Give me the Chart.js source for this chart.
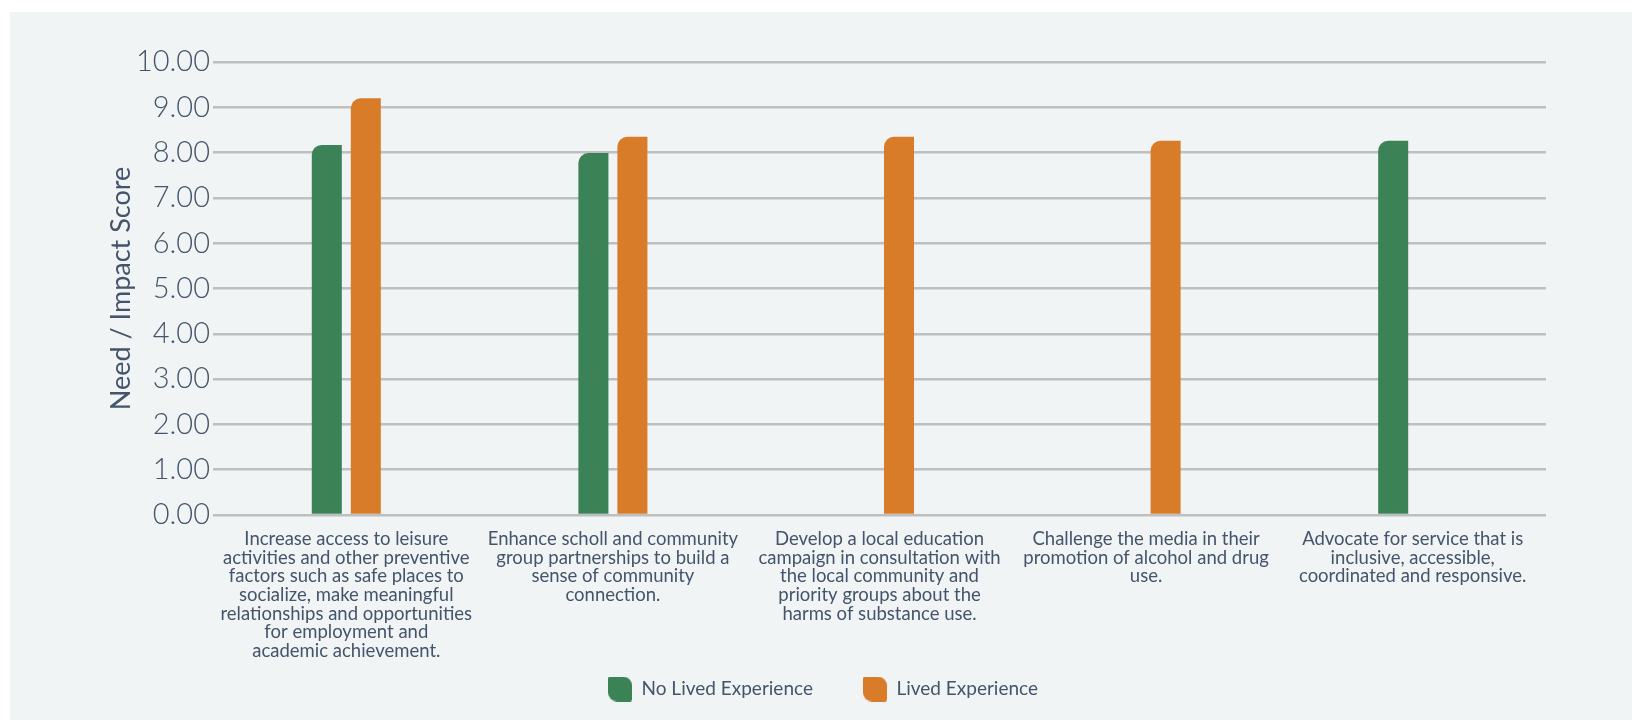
<!DOCTYPE html>
<html>
<head>
<meta charset="utf-8">
<script src="https://cdn.jsdelivr.net/npm/chart.js@4.4.1/dist/chart.umd.min.js"></script>
<style>
  html, body { margin: 0; padding: 0; background: #ffffff; }
  #wrap { position: relative; width: 1632px; height: 720px; }
</style>
</head>
<body>
<div id="wrap"><canvas id="c" width="1632" height="720"></canvas></div>
<script>
// ---- data ----
const categories = [
  ["Increase access to leisure", "activities and other preventive", "factors such as safe places to", "socialize, make meaningful", "relationships and opportunities", "for employment and", "academic achievement."],
  ["Enhance scholl and community", "group partnerships to build a", "sense of community", "connection."],
  ["Develop a local education", "campaign in consultation with", "the local community and", "priority groups about the", "harms of substance use."],
  ["Challenge the media in their", "promotion of alcohol and drug", "use."],
  ["Advocate for service that is", "inclusive, accessible,", "coordinated and responsive."]
];
const seriesNames = ["No Lived Experience", "Lived Experience"];
const noLivedExperience = [8.17, 7.99, null, null, 8.26];
const livedExperience = [9.20, 8.35, 8.35, 8.26, null];
const yTicks = [0, 1, 2, 3, 4, 5, 6, 7, 8, 9, 10];
const yAxisTitle = "Need / Impact Score";

// ---- styles ----
const GREEN = '#3c8257';
const ORANGE = '#d97c29';
const TEXT = '#44546a';

function leafIcon(color) {
  const cv = document.createElement('canvas');
  cv.width = 24; cv.height = 25;
  const x = cv.getContext('2d');
  x.fillStyle = color;
  x.beginPath();
  x.roundRect(0, 0, 24, 25, [2, 9, 2, 9]);
  x.fill();
  return cv;
}
const icons = [leafIcon(GREEN), leafIcon(ORANGE)];

const panelBg = {
  id: 'panelBg',
  beforeDraw(chart) {
    const ctx = chart.ctx;
    ctx.save();
    ctx.fillStyle = '#f0f4f5';
    ctx.fillRect(10, 12, 1622, 708);
    ctx.restore();
  }
};

const LEGEND_MID = 689;
const legendFix = {
  id: 'legendFix',
  beforeLayout(chart) {
    const lg = chart.legend;
    if (lg && !lg.__fixed) {
      const orig = lg.fit;
      lg.fit = function () { orig.call(this); this.height = 55; };
      lg.__fixed = true;
    }
  },
  afterLayout(chart) {
    const lg = chart.legend;
    if (!lg) return;
    const pad = lg.options.labels.padding;
    const fs = lg.options.labels.font.size;
    const top = LEGEND_MID - pad - fs / 2;
    lg.top = top;
    lg.bottom = 720;
    lg.height = lg.bottom - lg.top;
  }
};

new Chart(document.getElementById('c'), {
  type: 'bar',
  data: {
    labels: categories,
    datasets: [
      {
        label: seriesNames[0],
        data: noLivedExperience,
        backgroundColor: GREEN,
        borderRadius: { topLeft: 10, topRight: 0, bottomLeft: 0, bottomRight: 0 },
        borderSkipped: 'start',
        categoryPercentage: 0.2926,
        barPercentage: 0.77
      },
      {
        label: seriesNames[1],
        data: livedExperience,
        backgroundColor: ORANGE,
        borderRadius: { topLeft: 10, topRight: 0, bottomLeft: 0, bottomRight: 0 },
        borderSkipped: 'start',
        categoryPercentage: 0.2926,
        barPercentage: 0.77
      }
    ]
  },
  options: {
    responsive: false,
    animation: false,
    devicePixelRatio: 1,
    layout: { padding: { left: 100, top: 62, right: 86, bottom: 0 } },
    plugins: {
      tooltip: { enabled: false },
      legend: {
        position: 'bottom',
        labels: {
          usePointStyle: true,
          pointStyleWidth: 24,
          padding: 50,
          color: TEXT,
          font: { family: 'Lato', size: 19 },
          generateLabels(chart) {
            const items = Chart.defaults.plugins.legend.labels.generateLabels(chart);
            items.forEach((it, i) => { it.pointStyle = icons[i]; });
            return items;
          }
        }
      }
    },
    scales: {
      x: {
        grid: { display: false, drawTicks: false },
        border: { display: false },
        ticks: {
          color: TEXT,
          font: { family: 'Lato', size: 18.5, lineHeight: '18.6px' },
          padding: 15,
          maxRotation: 0,
          autoSkip: false
        },
        afterFit(s) { s.height = 150; }
      },
      y: {
        min: 0,
        max: 10,
        afterBuildTicks(s) { s.ticks = yTicks.map(v => ({ value: v })); },
        grid: { color: '#bebfc1', lineWidth: 2.5, drawTicks: false },
        border: { display: false },
        ticks: {
          color: TEXT,
          font: { family: 'Lato', size: 29, weight: '300' },
          padding: 3,
          callback: v => Number(v).toFixed(2)
        },
        title: {
          display: true,
          text: yAxisTitle,
          color: TEXT,
          font: { family: 'Lato', size: 27, weight: '400' },
          padding: { top: 5, bottom: 0 }
        },
        afterFit(s) { s.width = 113; }
      }
    }
  },
  plugins: [panelBg, legendFix]
});
</script>
</body>
</html>
